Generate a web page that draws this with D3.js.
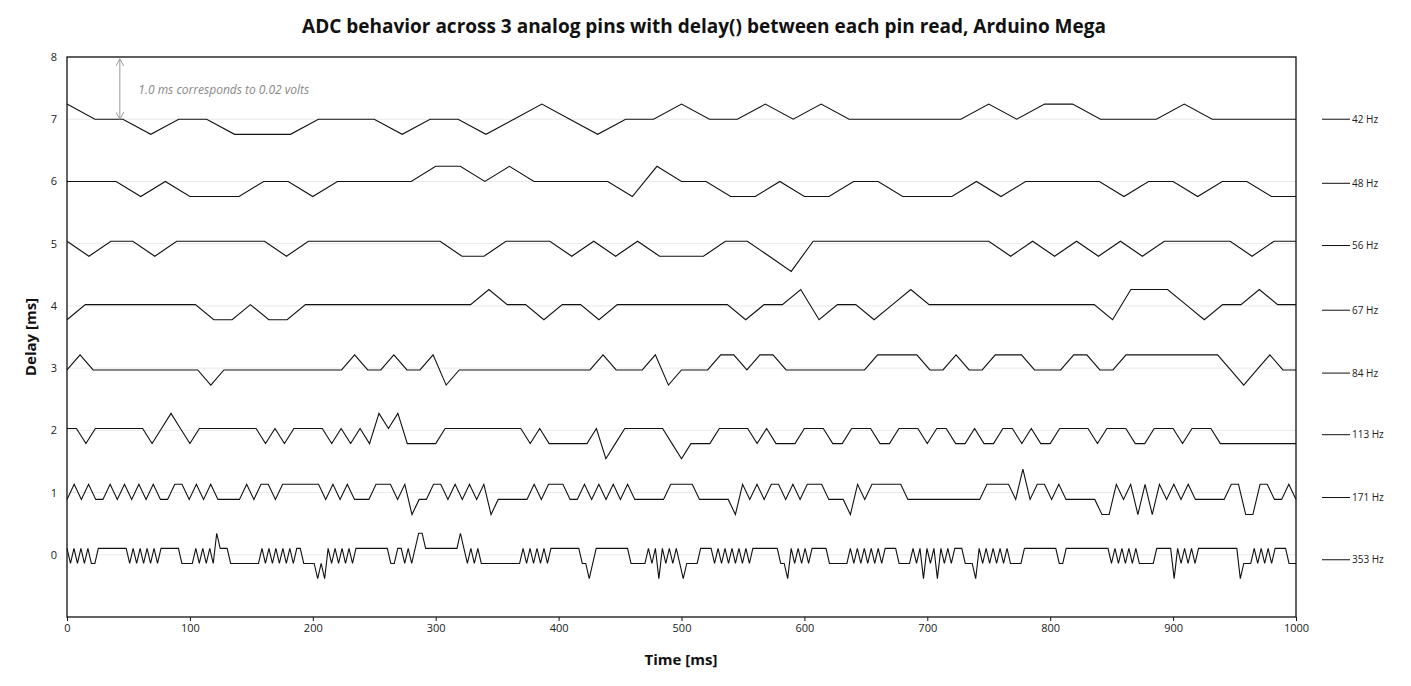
<!DOCTYPE html>
<html><head><meta charset="utf-8">
<script src="https://cdn.jsdelivr.net/npm/d3@7"></script>
<style>body{margin:0;background:#fff}svg{font-family:"Open Sans",sans-serif}</style>
</head><body><svg id="c" width="1411" height="686"></svg>
<script>
// Series: base level (ms), quantised offsets (digit-2 steps of one ADC count)
const seriesNames = ["42 Hz","48 Hz","56 Hz","67 Hz","84 Hz","113 Hz","171 Hz","353 Hz"];
const baseLevels = [7.0, 6.0, 5.04, 4.02, 2.97, 2.03, 0.89, -0.14];
const labelLevels = [7.0, 5.97, 4.97, 3.93, 2.92, 1.93, 0.92, -0.08];
const quantum = 0.243;
const s42 = "32212"+"21112"+"22122"+"12321"+"22322"+"32322"+"22232"+"33222"+"32222";
const s48 = "22212"+"11122"+"12222"+"33232"+"22213"+"22112"+"11221"+"11212"+"22212"+"21221"+"1";
const s56 = "21221"+"22222"+"12222"+"22211"+"22212"+"12111"+"22102"+"22222"+"22212"+"12121"+"22221"+"22";
const s67 = "12222"+"22211"+"21122"+"22222"+"22232"+"21221"+"22222"+"22122"+"31221"+"23222"+"22222"+"22133"+"32122"+"322";
const s84 = "23222"+"22222"+"21222"+"22222"+"22322"+"32231"+"22222"+"22222"+"23222"+"31222"+"33233"+"22222"+"22333"+"32232"+"23332"+"22332"+"23333"+"33332"+"12322";
const s113 = "2212222221"+"2321222222"+"2121222212"+"1213231111"+"2222222221"+"2111112012"+"2222101112"+"2221211122"+"2112221122"+"2122112112"+"2121122221"+"2221122212"+"22111111111";
const s171 = "2323223232"+"3232233232"+"3222232332"+"3333332323"+"2223332312"+"2332323231"+"2222232333"+"2232323232"+"2222333322"+"2221323233"+"2323332221"+"3233333222"+"2222222233"+"3324233232"+"2222113231"+"3132323222"+"2233113322"+"32";
const s353 = "323232322"+"333333333"+"23232323233"+"33332222"+"323232"+"4"+"333"+"222222222"+"32323232323"+"32222121"+"3232323233"+"33333333"+"22332323"+"44"+"3333333333"+"4"+"32323"+"222222222222"+"32323232"+"333333333"+"22"+"1"+"2"+"33"+"3333"+"333322222"+"3231323232"+"1"+"22223333"+"23232323232"+"33333333"+"221"+"3232323"+"3333222222"+"3232323232"+"33332222"+"323132313232"+"3332221"+"323232323"+"22223333"+"333333"+"22333"+"3333333333"+"232323232"+"22223333"+"313232323"+"33333333333"+"1"+"222"+"323232"+"3333222";
const seriesCodes = [s42,s48,s56,s67,s84,s113,s171,s353];
const xTicks = [0,100,200,300,400,500,600,700,800,900,1000];
const yTicks = [0,1,2,3,4,5,6,7,8];

const svg = d3.select("#c");
const L=67,R=1296,T=57,B=617;
const x = d3.scaleLinear().domain([0,1000]).range([L,R]);
const y = d3.scaleLinear().domain([-1,8]).range([B,T]);

// grid
svg.append("g").selectAll("line").data(yTicks).join("line")
  .attr("x1",L).attr("x2",R).attr("y1",d=>y(d)).attr("y2",d=>y(d))
  .attr("stroke","#e9e9e9").attr("stroke-width",1);

// series
const line = d3.line().x(d=>x(d.t)).y(d=>y(d.v));
seriesCodes.forEach((code,k)=>{
  const n = code.length;
  const pts = Array.from(code).map((c,i)=>({t:i*1000/(n-1), v: baseLevels[k]+quantum*(+c-2)}));
  svg.append("path").attr("d",line(pts)).attr("fill","none")
    .attr("stroke","#111").attr("stroke-width",1.1).attr("stroke-linejoin","miter");
});

// frame
svg.append("rect").attr("x",L).attr("y",T).attr("width",R-L).attr("height",B-T)
  .attr("fill","none").attr("stroke","#111").attr("stroke-width",1.3);

// axes
const ax = svg.append("g").attr("transform",`translate(0,${B})`)
  .call(d3.axisBottom(x).tickValues(xTicks).tickSize(4).tickFormat(d3.format("d")));
const ay = svg.append("g").attr("transform",`translate(${L},0)`)
  .call(d3.axisLeft(y).tickValues(yTicks).tickSize(0).tickPadding(10).tickFormat(d3.format("d")));
[ax,ay].forEach(a=>{a.select(".domain").remove();a.selectAll("text").attr("font-size",11).attr("fill","#222").attr("font-family","Open Sans");a.selectAll("line").attr("stroke","#111");});

// right labels
const lab = svg.append("g");
seriesNames.forEach((s,k)=>{
  lab.append("line").attr("x1",1322).attr("x2",1350).attr("y1",y(labelLevels[k])).attr("y2",y(labelLevels[k])).attr("stroke","#111");
  lab.append("text").attr("x",1352).attr("y",y(labelLevels[k])).attr("dy","0.35em").attr("font-size",10).attr("fill","#222").text(s);
});

// annotation
const defs = svg.append("defs");
defs.append("marker").attr("id","ah").attr("viewBox","0 0 10 10").attr("refX",9).attr("refY",5)
  .attr("markerWidth",8).attr("markerHeight",8).attr("orient","auto-start-reverse")
  .append("path").attr("d","M0,0 L9,5 L0,10").attr("fill","none").attr("stroke","#999").attr("stroke-width",1.2);
svg.append("line").attr("x1",x(43)).attr("x2",x(43)).attr("y1",y(7.97)).attr("y2",y(7.0))
  .attr("stroke","#999").attr("stroke-width",1).attr("marker-start","url(#ah)").attr("marker-end","url(#ah)");
svg.append("text").attr("x",x(58)).attr("y",y(7.47)).attr("dy","0.35em").attr("font-size",12)
  .attr("font-style","italic").attr("fill","#888").text("1.0 ms corresponds to 0.02 volts");

// titles
svg.append("text").attr("x",704).attr("y",33).attr("text-anchor","middle").attr("font-size",19)
  .attr("font-weight","bold").attr("fill","#111").text("ADC behavior across 3 analog pins with delay() between each pin read, Arduino Mega");
svg.append("text").attr("x",681).attr("y",665).attr("text-anchor","middle").attr("font-size",15)
  .attr("font-weight","bold").attr("fill","#111").text("Time [ms]");
svg.append("text").attr("transform","translate(36,337) rotate(-90)").attr("text-anchor","middle").attr("font-size",15)
  .attr("font-weight","bold").attr("fill","#111").text("Delay [ms]");
</script></body></html>
